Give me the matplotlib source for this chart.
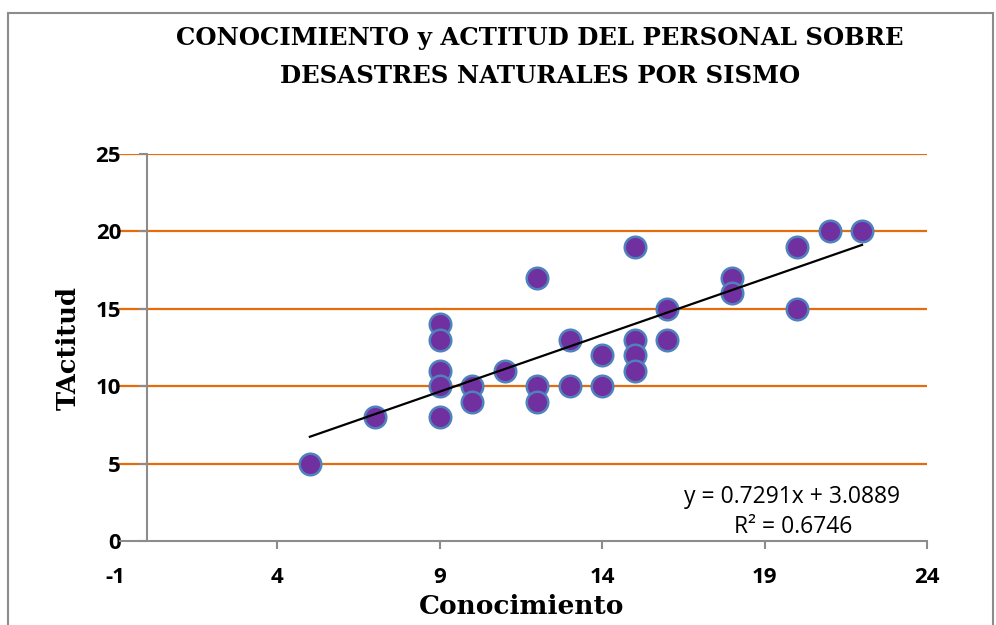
import matplotlib
matplotlib.use("Agg")
import matplotlib.pyplot as plt
from matplotlib.patches import Rectangle
import numpy as np

plt.rcParams['axes.unicode_minus'] = False

# Data
conocimiento = [5, 7, 9, 9, 9, 9, 9, 10, 10, 11, 12, 12, 12, 13, 13, 14, 14,
                15, 15, 15, 15, 16, 16, 18, 18, 20, 20, 21, 22]
actitud = [5, 8, 14, 13, 11, 10, 8, 10, 9, 11, 17, 10, 9, 13, 10, 12, 10,
           19, 13, 12, 11, 15, 13, 17, 16, 19, 15, 20, 20]
slope = 0.7291
intercept = 3.0889
r2 = 0.6746
x_ticks = [-1, 4, 9, 14, 19, 24]
y_ticks = [0, 5, 10, 15, 20, 25]
title = "CONOCIMIENTO y ACTITUD DEL PERSONAL SOBRE\nDESASTRES NATURALES POR SISMO"

W, H = 996, 625
fig = plt.figure(figsize=(W / 100, H / 100), dpi=100)

# outer chart border
fig.patches.append(Rectangle((8 / W, -0.05), (985 / W), 1 - 13 / H + 0.05,
                             transform=fig.transFigure, fill=False,
                             edgecolor='#8c8c8c', linewidth=1.5))

ax = fig.add_axes([115 / W, 1 - 541 / H, (927 - 115) / W, (541 - 154) / H])
ax.set_xlim(-1, 24)
ax.set_ylim(0, 25)

orange = '#E46C0A'
for yv in y_ticks[1:]:
    ax.axhline(yv, xmin=0.006, color=orange, linewidth=1.6, zorder=1)

for s in ['top', 'right']:
    ax.spines[s].set_visible(False)
ax.spines['left'].set_position(('data', 0))
ax.spines['left'].set_color('#8c8c8c')
ax.spines['bottom'].set_color('#8c8c8c')
ax.spines['left'].set_linewidth(1.5)
ax.spines['bottom'].set_linewidth(1.5)
ax.spines['bottom'].set_bounds(-0.85, 24)

ax.set_xticks(x_ticks)
ax.set_yticks(y_ticks)
ax.tick_params(axis='both', direction='out', length=6, width=1.5, color='#8c8c8c',
               labelsize=16)
ax.tick_params(axis='y', pad=13)
ax.tick_params(axis='x', pad=13)
ax.xaxis.get_major_ticks()[0].tick1line.set_visible(False)
for lab in ax.get_xticklabels() + ax.get_yticklabels():
    lab.set_fontweight('bold')
    lab.set_fontfamily('Open Sans')

ax.scatter(conocimiento, actitud, s=240, color='#7030A0', edgecolor='#4F81BD',
           linewidth=1.8, zorder=3, clip_on=False)

xs = np.array([min(conocimiento), max(conocimiento)])
ax.plot(xs, slope * xs + intercept, color='black', linewidth=1.6, zorder=4)

ax.text(792 / W, 1 - 497 / H, f"y = {slope}x + {intercept}", transform=fig.transFigure,
        ha='center', va='center', fontsize=16.5, fontfamily='Open Sans')
ax.text(793 / W, 1 - 527 / H, f"R² = {r2}", transform=fig.transFigure,
        ha='center', va='center', fontsize=16.5, fontfamily='Open Sans')

fig.text(540 / W, 1 - 57 / H, title, ha='center', va='center', fontsize=17.6,
         fontweight='bold', fontfamily='DejaVu Serif', linespacing=1.7)
fig.text(68 / W, 1 - 348 / H, "TActitud", rotation=90, ha='center', va='center',
         fontsize=18.5, fontweight='bold', fontfamily='DejaVu Serif')
fig.text(522 / W, 1 - 607 / H, "Conocimiento", ha='center', va='center',
         fontsize=19, fontweight='bold', fontfamily='DejaVu Serif')

fig.savefig("out.png", dpi=100)
